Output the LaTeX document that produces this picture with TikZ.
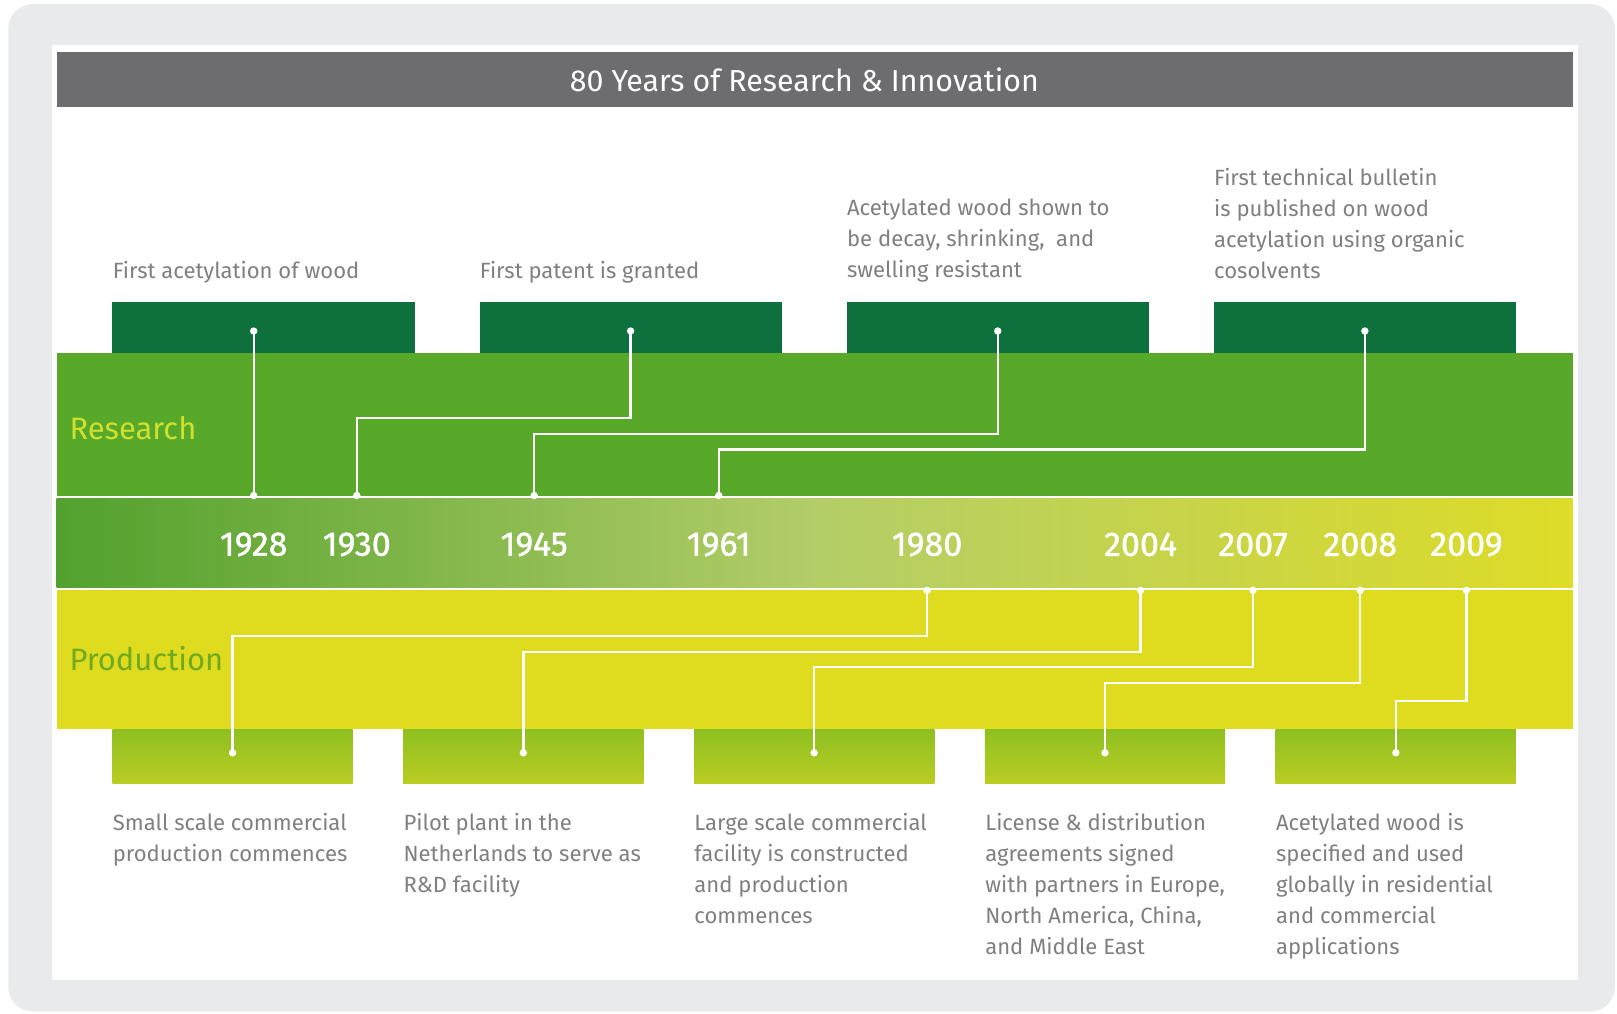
\documentclass[tikz,border=0pt]{standalone}
\usepackage{fontspec}
\setmainfont{Fira Sans}
\newfontfamily\yearfont[FakeBold=1.2]{Fira Sans}
\usepackage{tikz}
\usetikzlibrary{positioning,arrows.meta}

\definecolor{framegray}{HTML}{E9EAEC}
\definecolor{titlegray}{HTML}{6D6D6F}
\definecolor{resbox}{HTML}{0E713D}
\definecolor{resband}{HTML}{58A92A}
\definecolor{prodband}{HTML}{DFDB1E}
\definecolor{prodboxtop}{HTML}{8EC021}
\definecolor{prodboxbot}{HTML}{BBCD23}
\definecolor{yearleft}{HTML}{52A12E}
\definecolor{yearmid}{HTML}{B3CD68}
\definecolor{yearright}{HTML}{DEDC28}
\definecolor{notegray}{HTML}{808080}
\definecolor{reslabel}{HTML}{CFE030}
\definecolor{prodlabel}{HTML}{6FAA20}

\begin{document}
\begin{tikzpicture}[x=0.5pt,y=-0.5pt,
    rbox/.style={fill=resbox, minimum width=146.5pt, minimum height=24.5pt, inner sep=0, outer sep=0},
    pbox/.style={top color=prodboxtop, bottom color=prodboxbot, minimum width=116.5pt, minimum height=26.5pt, inner sep=0, outer sep=0},
    year/.style={text=white, font=\yearfont\fontsize{16.5}{18}\selectfont, inner sep=0},
    band/.style={anchor=west, font=\fontsize{15}{18}\selectfont, inner sep=0},
    note/.style={text=notegray, font=\fontsize{10.7}{15}\selectfont, align=left, anchor=north west, inner sep=0},
    link/.style={draw=white, line width=1.1pt, {Circle[length=3.5pt]}-{Circle[length=3.5pt]}}]
    \useasboundingbox (0,0) rectangle (1568,983);
    \fill[framegray, rounded corners=12pt] (8,4) rectangle (1566,981);
    \fill[white] (50,44) rectangle (1530,950);

    % title bar
    \fill[titlegray] (55,50) rectangle (1525,104);
    \node[text=white, font=\fontsize{14.7}{18}\selectfont] (title) at (780,77) {80 Years of Research \& Innovation};

    % bands
    \fill[resband] (55,342) rectangle (1525,481);
    \shade[left color=yearleft, right color=yearright, middle color=yearmid] (55,483) rectangle (1525,570);
    \fill[prodband] (55,572) rectangle (1525,707);
    \draw[white, line width=1.2pt] (55,482) -- (1525,482);
    \draw[white, line width=1.2pt] (55,571) -- (1525,571);
    \coordinate (top) at (0,484);
    \coordinate (bot) at (0,569);

    \node[band, text=reslabel] (research) at (67,415) {Research};
    \node[band, text=prodlabel] (production) at (67,639) {Production};

    % years
    \node[year] (y1928) at (246,528) {1928};
    \node[year] (y1930) at (346,528) {1930};
    \node[year] (y1945) at (518,528) {1945};
    \node[year] (y1961) at (697,528) {1961};
    \node[year] (y1980) at (899,528) {1980};
    \node[year] (y2004) at (1106,528) {2004};
    \node[year] (y2007) at (1215,528) {2007};
    \node[year] (y2008) at (1319,528) {2008};
    \node[year] (y2009) at (1422,528) {2009};

    % research boxes
    \node[rbox] (rb1) at (255.5,317.5) {};
    \node[rbox, right=31.5pt of rb1] (rb2) {};
    \node[rbox, right=31.5pt of rb2] (rb3) {};
    \node[rbox, right=31.5pt of rb3] (rb4) {};

    % production boxes
    \node[pbox] (pb1) at (225.5,733.5) {};
    \node[pbox, right=24.5pt of pb1] (pb2) {};
    \node[pbox, right=24.5pt of pb2] (pb3) {};
    \node[pbox, right=24.5pt of pb3] (pb4) {};
    \node[pbox, right=24.5pt of pb4] (pb5) {};

    % research notes
    \node[note] (r1) at ([yshift=20pt]rb1.north west) {First acetylation of wood};
    \node[note] (r2) at ([yshift=20pt]rb2.north west) {First patent is granted};
    \node[note] (r3) at ([yshift=50pt]rb3.north west) {Acetylated wood shown to\\be decay, shrinking,\ \ and\\swelling resistant};
    \node[note] (r4) at ([yshift=65pt]rb4.north west) {First technical bulletin\\is published on wood\\acetylation using organic\\cosolvents};

    % production notes
    \node[note] (p1) at ([yshift=-14pt]pb1.south west) {Small scale commercial\\production commences};
    \node[note] (p2) at ([yshift=-14pt]pb2.south west) {Pilot plant in the\\Netherlands to serve as\\R\&D facility};
    \node[note] (p3) at ([yshift=-14pt]pb3.south west) {Large scale commercial\\facility is constructed\\and production\\commences};
    \node[note] (p4) at ([yshift=-14pt]pb4.south west) {License \& distribution\\agreements signed\\with partners in Europe,\\North America, China,\\and Middle East};
    \node[note] (p5) at ([yshift=-14pt]pb5.south west) {Acetylated wood is\\specified and used\\globally in residential\\and commercial\\applications};

    % links to the time line
    \draw[link] (y1928 |- rb1.center) -- (y1928 |- top);
    \draw[link] (rb2.center) -- ++(0,87.5) -| (y1930 |- top);
    \draw[link] (rb3.center) -- ++(0,103.5) -| (y1945 |- top);
    \draw[link] (rb4.center) -- ++(0,118.5) -| (y1961 |- top);

    \draw[link] (y1980 |- bot) -- ++(0,48) -| (pb1.center);
    \draw[link] (y2004 |- bot) -- ++(0,63) -| (pb2.center);
    \draw[link] (y2007 |- bot) -- ++(0,78) -| (pb3.center);
    \draw[link] (y2008 |- bot) -- ++(0,93) -| (pb4.center);
    \draw[link] (y2009 |- bot) -- ++(0,111) -| (pb5.center);
\end{tikzpicture}
\end{document}
